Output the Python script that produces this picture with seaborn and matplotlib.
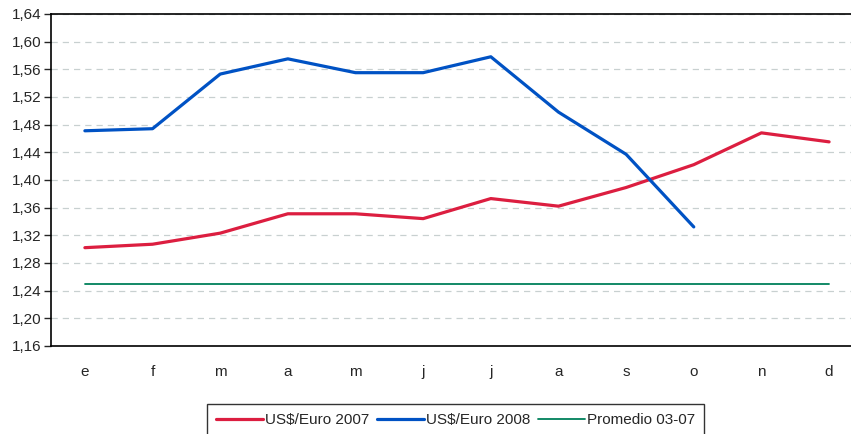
import numpy as np
import pandas as pd
import matplotlib.pyplot as plt
import seaborn as sns

meses = ['e', 'f', 'm', 'a', 'm', 'j', 'j', 'a', 's', 'o', 'n', 'd']
euro_2007 = [1.302, 1.307, 1.323, 1.351, 1.351, 1.344, 1.373, 1.362, 1.389, 1.422, 1.468, 1.455]
euro_2008 = [1.471, 1.474, 1.553, 1.575, 1.555, 1.555, 1.578, 1.498, 1.437, 1.332, np.nan, np.nan]
promedio = [1.25] * 12

sns.set_style('white')
plt.rcParams['font.family'] = ['Liberation Sans', 'DejaVu Sans']

df = pd.DataFrame({
    'x': np.arange(12),
    'US$/Euro 2007': euro_2007,
    'US$/Euro 2008': euro_2008,
    'Promedio 03-07': promedio,
})

fig, ax = plt.subplots(figsize=(8.51, 4.34), dpi=100)
# the plot frame runs past the right edge of the picture, as in the original
fig.subplots_adjust(left=0.06, right=1.014, top=0.968, bottom=0.203)

sns.lineplot(data=df, x='x', y='US$/Euro 2007', ax=ax, color='#DC1E40', lw=2.3, label='US$/Euro 2007')
sns.lineplot(data=df, x='x', y='US$/Euro 2008', ax=ax, color='#0052C4', lw=2.3, label='US$/Euro 2008')
sns.lineplot(data=df, x='x', y='Promedio 03-07', ax=ax, color='#00805A', lw=1.3, label='Promedio 03-07')

ax.set_xlim(-0.5, 11.5)
ax.set_ylim(1.16, 1.64)
yt = np.arange(1.16, 1.6401, 0.04)
ax.set_yticks(yt)
ax.set_yticklabels([f'{v:.2f}'.replace('.', ',') for v in yt], fontsize=11)
ax.yaxis.grid(True, ls=(0, (5, 4)), color='#C8D0D0', lw=0.9)
ax.set_axisbelow(True)

ax.set_xticks(np.arange(12))
ax.set_xticklabels(meses, fontsize=11)
ax.set_xticks(np.arange(-0.5, 12, 1), minor=True)
ax.tick_params(axis='x', which='major', length=0, pad=14)
ax.tick_params(axis='x', which='minor', length=5, width=1, color='#333333', direction='out')
ax.tick_params(axis='y', length=5, width=1, direction='out', left=True, pad=2)
ax.set_xlabel('')
ax.set_ylabel('')

for s in ax.spines.values():
    s.set_color('black')
    s.set_linewidth(1.2)

# legend box sits at the bottom and is cut off by the picture edge
leg = ax.legend(loc='upper center', bbox_to_anchor=(0.498, -0.152), ncol=3, frameon=True,
                fancybox=False, edgecolor='black', fontsize=11, handlelength=3.1,
                handletextpad=0.1, columnspacing=0.5, borderpad=0.6)
leg.set_in_layout(False)

fig.savefig('out.png', dpi=100)
